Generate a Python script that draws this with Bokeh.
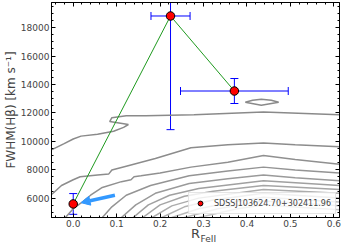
from bokeh.plotting import figure
from bokeh.models import (Range1d, LinearAxis, SingleIntervalTicker, PrintfTickFormatter,
                          ColumnDataSource, Whisker, TeeHead, Arrow, NormalHead, Title,
                          Legend, LegendItem)
from bokeh.embed import file_html
from bokeh.resources import INLINE

# ---------------- data ----------------
r_feii = [0.0, 0.224, 0.371]
fwhm = [5590, 18820, 13540]
r_err = [0.0, 0.045, 0.124]
fwhm_err = [730, 8000, 880]
obj_name = "SDSSJ103624.70+302411.96"

# arrow (start -> end)
arrow_x = [0.096, 0.018]
arrow_y = [6200, 5680]

# contour lines (R_FeII, FWHM)
c1_x = [-0.049, -0.022, 0.0, 0.018, 0.056, 0.093, 0.116, 0.127, 0.084, 0.089, 0.122, 0.167, 0.278, 0.438, 0.613]
c1_y = [9409, 9818, 10159, 10364, 10500, 10704, 10977, 11182, 11386, 11659, 11795, 11795, 11864, 12068, 11864]
c2_x = [-0.049, -0.027, 0.0, 0.016, 0.056, 0.082, 0.089, 0.122, 0.189, 0.271, 0.356, 0.438, 0.511, 0.613]
c2_y = [6273, 6886, 7295, 7500, 7636, 7705, 7977, 8250, 8795, 9545, 9750, 9886, 9750, 9614]
c3_x = [-0.018, 0.0, 0.018, 0.04, 0.067, 0.111, 0.133, 0.14, 0.156, 0.2, 0.271, 0.356, 0.438, 0.511, 0.613]
c3_y = [4636, 5250, 5659, 6205, 6750, 7159, 7295, 7500, 7568, 7773, 8182, 8523, 9000, 8727, 8386]
c4_x = [0.067, 0.089, 0.122, 0.178, 0.267, 0.356, 0.438, 0.511, 0.613]
c4_y = [4636, 5386, 6205, 6886, 7568, 7909, 8182, 7977, 7773]
c5_x = [0.111, 0.144, 0.189, 0.267, 0.356, 0.438, 0.511, 0.613]
c5_y = [4636, 5523, 6341, 7023, 7364, 7636, 7432, 7227]
c6_x = [0.138, 0.173, 0.222, 0.289, 0.438, 0.613]
c6_y = [4636, 5523, 6205, 6682, 7227, 6886]
c7_x = [0.16, 0.2, 0.256, 0.322, 0.438, 0.613]
c7_y = [4636, 5523, 6136, 6477, 6886, 6614]
c8_x = [0.182, 0.227, 0.289, 0.438, 0.613]
c8_y = [4636, 5455, 6000, 6614, 6341]
c9_x = [0.204, 0.256, 0.322, 0.438, 0.613]
c9_y = [4636, 5386, 5864, 6341, 6000]
c10_x = [0.227, 0.289, 0.367, 0.438, 0.613]
c10_y = [4636, 5250, 5727, 6068, 5727]
c11_x = [0.256, 0.333, 0.438, 0.613]
c11_y = [4636, 5250, 5795, 5455]
c12_x = [0.289, 0.378, 0.438, 0.613]
c12_y = [4636, 5250, 5523, 5182]
island_x = [0.396, 0.413, 0.433, 0.456, 0.473, 0.433, 0.396]
island_y = [12750, 12886, 12955, 12886, 12750, 12545, 12750]

contour_xs = [c1_x, c2_x, c3_x, c4_x, c5_x, c6_x, c7_x, c8_x, c9_x, c10_x, c11_x, c12_x, island_x]
contour_ys = [c1_y, c2_y, c3_y, c4_y, c5_y, c6_y, c7_y, c8_y, c9_y, c10_y, c11_y, c12_y, island_y]
contour_colors = ["#8a8a8a", "#8c8c8c", "#909090", "#949494", "#9a9a9a", "#a0a0a0", "#a6a6a6",
                  "#acacac", "#b2b2b2", "#b8b8b8", "#bebebe", "#c4c4c4", "#8a8a8a"]

x_tick_step = 0.1
y_tick_step = 2000

# ---------------- figure ----------------
FONT = "DejaVu Sans"
p = figure(width=341, height=243, output_backend="svg", toolbar_location=None,
           x_range=Range1d(-0.05, 0.613), y_range=Range1d(4636, 19770),
           min_border_left=0, min_border_right=2, min_border_top=2, min_border_bottom=20)
p.grid.visible = False
p.outline_line_color = "black"
p.outline_line_width = 1
p.background_fill_color = "white"
p.border_fill_color = "white"

xt = SingleIntervalTicker(interval=x_tick_step, num_minor_ticks=5)
yt = SingleIntervalTicker(interval=y_tick_step, num_minor_ticks=4)

for ax in p.xaxis:
    ax.ticker = xt
    ax.formatter = PrintfTickFormatter(format="%.1f")
    ax.axis_label = "R"
    ax.axis_label_text_font = FONT
    ax.axis_label_text_font_size = "13px"
    ax.axis_label_text_font_style = "normal"
    ax.axis_label_standoff = -4
    ax.major_label_standoff = 2
for ax in p.yaxis:
    ax.ticker = yt
    ax.formatter = PrintfTickFormatter(format="%d")
    ax.axis_label = "FWHM(Hβ) [km s⁻¹]"
    ax.axis_label_text_font = FONT
    ax.axis_label_text_font_size = "12px"
    ax.axis_label_text_font_style = "normal"
    ax.axis_label_standoff = 0
    ax.major_label_standoff = 2

for ax in list(p.xaxis) + list(p.yaxis):
    ax.major_label_text_font = FONT
    ax.major_label_text_font_size = "9px"
    ax.major_tick_in = 4
    ax.major_tick_out = 0
    ax.minor_tick_in = 2
    ax.minor_tick_out = 0
    ax.axis_line_color = "black"

top_ax = LinearAxis(ticker=xt, major_label_text_font_size="1px", major_label_text_color=None,
                    major_label_standoff=0,
                    major_tick_in=4, major_tick_out=0, minor_tick_in=2, minor_tick_out=0)
right_ax = LinearAxis(ticker=yt, major_label_text_font_size="1px", major_label_text_color=None,
                      major_label_standoff=0,
                      major_tick_in=4, major_tick_out=0, minor_tick_in=2, minor_tick_out=0)
p.add_layout(top_ax, "above")
p.add_layout(right_ax, "right")

# subscript of the x-axis label, pulled up beside the "R"
p.add_layout(Title(text="FeII", align="left", offset=149, standoff=-20, vertical_align="top",
                   text_font=FONT, text_font_size="9px", text_font_style="normal"), "below")

# contours
p.multi_line(xs=contour_xs, ys=contour_ys, line_color=contour_colors, line_width=1.5)

# error bars
src = ColumnDataSource(dict(
    x=r_feii, y=fwhm,
    ylo=[y - e for y, e in zip(fwhm, fwhm_err)], yhi=[y + e for y, e in zip(fwhm, fwhm_err)],
    xlo=[x - e for x, e in zip(r_feii, r_err)], xhi=[x + e for x, e in zip(r_feii, r_err)],
))
p.add_layout(Whisker(source=src, base="x", lower="ylo", upper="yhi", dimension="height",
                     line_color="blue", line_width=1,
                     lower_head=TeeHead(size=8, line_color="blue", line_width=1),
                     upper_head=TeeHead(size=8, line_color="blue", line_width=1)))
p.add_layout(Whisker(source=src, base="y", lower="xlo", upper="xhi", dimension="width",
                     line_color="blue", line_width=1,
                     lower_head=TeeHead(size=8, line_color="blue", line_width=1),
                     upper_head=TeeHead(size=8, line_color="blue", line_width=1)))

# connecting line
p.line(r_feii, fwhm, line_color="#1f9a1f", line_width=1)

# points
pts = p.scatter(r_feii, fwhm, size=8.5, fill_color="red", line_color="black", line_width=1)

# arrow
p.add_layout(Arrow(x_start=arrow_x[0], y_start=arrow_y[0], x_end=arrow_x[1], y_end=arrow_y[1],
                   line_color="#3399ff", line_width=3.5,
                   end=NormalHead(size=9, fill_color="#3399ff", line_color="#3399ff")))

# legend
legend = Legend(items=[LegendItem(label=obj_name, renderers=[pts])], location="bottom_right",
                label_text_font=FONT, label_text_font_size="8px",
                border_line_color="#cccccc", border_line_width=1,
                background_fill_alpha=0.8, margin=3, padding=4,
                glyph_width=14, glyph_height=12, label_standoff=7, label_height=12)
p.add_layout(legend)

open("out.html", "w").write(file_html(p, INLINE))
